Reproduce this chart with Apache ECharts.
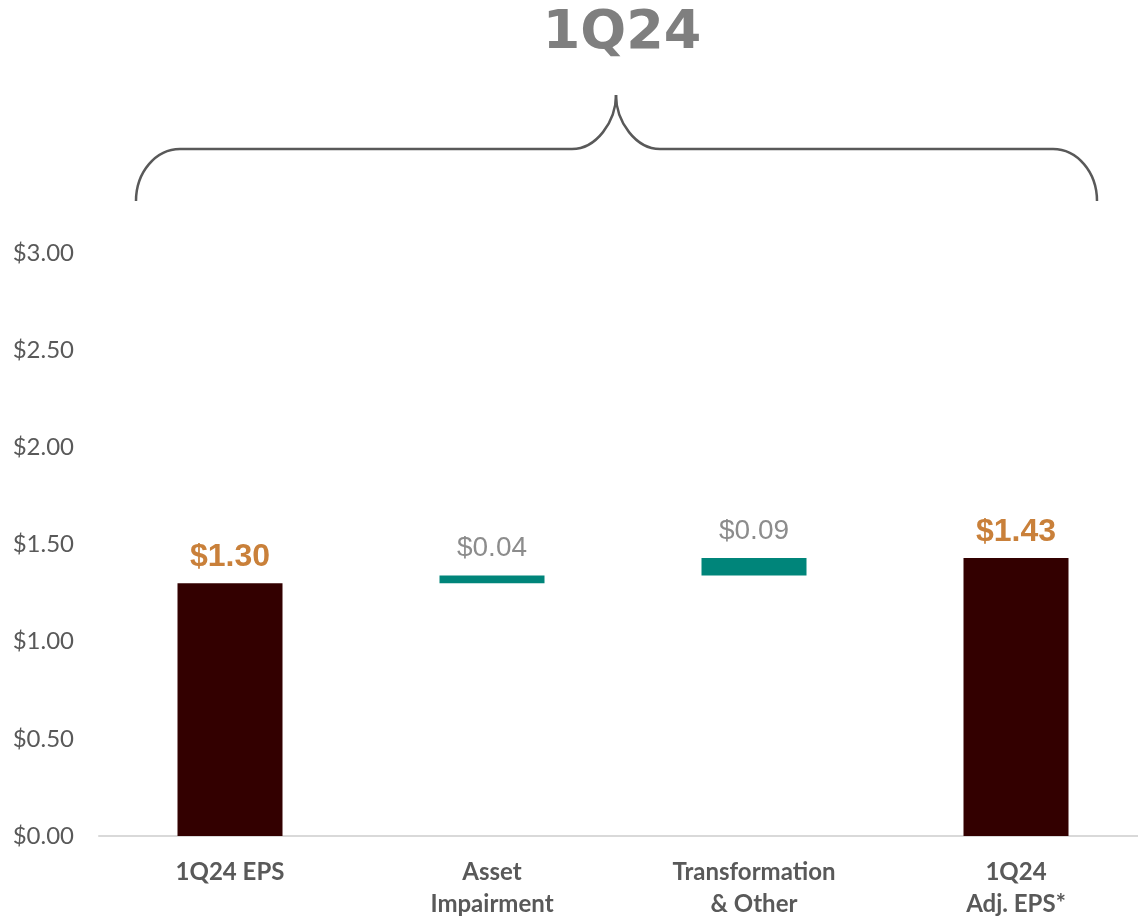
<!DOCTYPE html>
<html>
<head>
<meta charset="utf-8">
<style>
  html, body { margin: 0; padding: 0; background: #ffffff; }
  #chart { width: 1138px; height: 918px; }
</style>
<script src="https://cdn.jsdelivr.net/npm/echarts@6/dist/echarts.min.js"></script>
</head>
<body>
<div id="chart"></div>
<script>
// categories and values
const categories = ['1Q24 EPS', 'Asset\nImpairment', 'Transformation\n& Other', '1Q24\nAdj. EPS*']
const baseValues = [0, 1.30, 1.34, 0]          // invisible offset of the floating steps
const stepValues = [1.30, 0.04, 0.09, 1.43]
const stepKinds = ['total', 'step', 'step', 'total']
const yTicks = [0, 0.5, 1, 1.5, 2, 2.5, 3]

const totalColor = '#330000'
const stepColor = '#00857A'

const chart = echarts.init(document.getElementById('chart'))

const stepData = stepValues.map((v, i) => {
  const total = stepKinds[i] === 'total'
  return {
    value: v,
    itemStyle: { color: total ? totalColor : stepColor },
    label: total
      ? { color: '#C9803A', fontSize: 32, fontWeight: 'bold', distance: 10 }
      : { color: '#8C8C8C', fontSize: 28, fontWeight: 'normal', distance: 13 }
  }
})

// brace drawn above the plot
const braceStyle = { stroke: '#595959', lineWidth: 2.5, fill: null }

const option = {
  animation: false,
  grid: { left: 99, width: 1048, top: 253, bottom: 82, outerBoundsMode: 'none', containLabel: false },
  xAxis: {
    type: 'category',
    data: categories,
    axisLine: { lineStyle: { color: '#D9D9D9', width: 2 } },
    axisTick: { show: false },
    axisLabel: {
      color: '#595959',
      fontFamily: 'Lato',
      fontWeight: 'bold',
      fontSize: 24,
      lineHeight: 32,
      margin: 20
    }
  },
  yAxis: {
    type: 'value',
    min: yTicks[0],
    max: yTicks[yTicks.length - 1],
    interval: 0.5,
    splitLine: { show: false },
    axisLine: { show: false },
    axisTick: { show: false },
    axisLabel: {
      color: '#595959',
      fontFamily: 'Lato',
      fontSize: 24,
      margin: 25,
      formatter: v => '$' + v.toFixed(2)
    }
  },
  graphic: [
    {
      type: 'text',
      x: 622,
      y: 7,
      style: {
        text: '1Q24',
        fontFamily: 'DejaVu Sans',
        fontWeight: 'bold',
        fontSize: 54,
        fill: '#7F7F7F',
        align: 'center'
      }
    },
    { type: 'bezierCurve', shape: { x1: 136, y1: 201, cpx1: 136, cpy1: 172, cpx2: 156, cpy2: 149, x2: 180, y2: 149 }, style: braceStyle },
    { type: 'line', shape: { x1: 180, y1: 149, x2: 572, y2: 149 }, style: braceStyle },
    { type: 'bezierCurve', shape: { x1: 572, y1: 149, cpx1: 596, cpy1: 149, cpx2: 616, cpy2: 122, x2: 616, y2: 95 }, style: braceStyle },
    { type: 'bezierCurve', shape: { x1: 616, y1: 95, cpx1: 616, cpy1: 122, cpx2: 636, cpy2: 149, x2: 660, y2: 149 }, style: braceStyle },
    { type: 'line', shape: { x1: 660, y1: 149, x2: 1053, y2: 149 }, style: braceStyle },
    { type: 'bezierCurve', shape: { x1: 1053, y1: 149, cpx1: 1077, cpy1: 149, cpx2: 1097, cpy2: 172, x2: 1097, y2: 201 }, style: braceStyle }
  ],
  series: [
    {
      name: 'base',
      type: 'bar',
      stack: 'eps',
      barWidth: 105,
      silent: true,
      itemStyle: { color: 'transparent' },
      data: baseValues
    },
    {
      name: 'eps',
      type: 'bar',
      stack: 'eps',
      barWidth: 105,
      label: {
        show: true,
        position: 'top',
        fontFamily: 'Liberation Sans',
        formatter: p => '$' + p.value.toFixed(2)
      },
      data: stepData
    }
  ]
}

chart.setOption(option)
</script>
</body>
</html>
